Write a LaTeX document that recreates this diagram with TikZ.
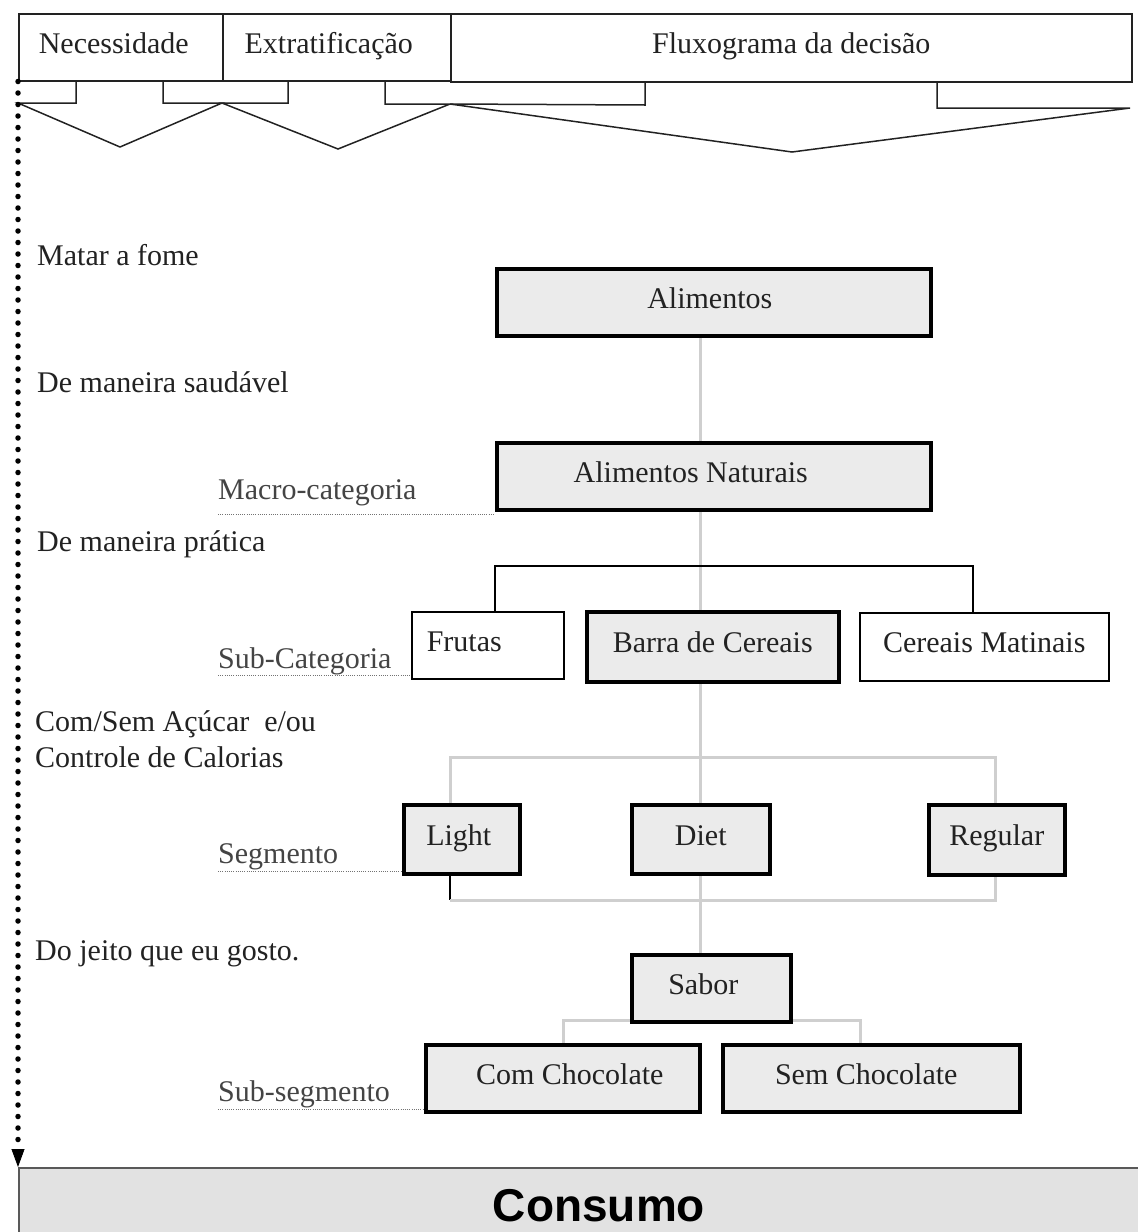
\documentclass[tikz,border=0pt]{standalone}
\usepackage{fontspec}
\setmainfont{Liberation Serif}
\newfontfamily\consfont{Liberation Sans}
\usetikzlibrary{arrows.meta,backgrounds}
\definecolor{boxgray}{HTML}{EBEBEB}
\definecolor{consgray}{HTML}{E2E2E2}
\definecolor{linkgray}{HTML}{CFCFCF}
\definecolor{ink}{HTML}{222222}
\definecolor{labink}{HTML}{444444}
\begin{document}
\begin{tikzpicture}[x=1pt,y=-1pt,
  font=\fontsize{30}{36}\selectfont,
  every node/.style={text=ink},
  hdrbox/.style={draw=ink, line width=1.5pt, anchor=north west, inner sep=0pt, text height=21pt, text depth=9pt},
  hdrline/.style={draw=ink, line width=1.5pt, line join=miter},
  gbox/.style={draw=black, line width=3.5pt, fill=boxgray, anchor=north west, inner sep=0pt, text height=21pt, text depth=9pt},
  wbox/.style={draw=black, line width=1.5pt, fill=white, anchor=north west, inner sep=0pt, text height=21pt, text depth=9pt},
  glink/.style={draw=linkgray, line width=3pt},
  blink/.style={draw=black, line width=1.5pt},
  uline/.style={draw=black!55, line width=1pt, dash pattern=on 1pt off 1.2pt},
  lbl/.style={anchor=base west, inner sep=0pt},
  catlbl/.style={anchor=base west, inner sep=0pt, text=labink},
  dotline/.style={draw=black, line width=5.5pt, line cap=round, dash pattern=on 0pt off 11.5pt}
]
\useasboundingbox (0,0) rectangle (1138,1232);
\clip (0,0) rectangle (1138,1232);

% header
\node[hdrbox, minimum width=204pt, minimum height=67pt] (nec) at (18,13) {Necessidade\hspace*{14pt}};
\node[hdrbox, minimum width=228pt, minimum height=67pt] (ext) at (222,13) {Extratificação\hspace*{16pt}};
\node[hdrbox, minimum width=681pt, minimum height=68pt] (flux) at (450,13) {Fluxograma da decisão};

\draw[hdrline] (76,80) -- (76,103) -- (18,103) -- (120,147) -- (222,103) -- (163,103) -- (163,80);
\draw[hdrline] (288,80) -- (288,103) -- (222,103) -- (338,149) -- (450,104) -- (385,104) -- (385,80);
\draw[hdrline] (645,81) -- (645,105) -- (450,104) -- (792,152) -- (1130,108) -- (937,108) -- (937,81);

% boxes
\node[gbox, minimum width=434pt, minimum height=67pt] (alim) at (495,267) {Alimentos\hspace*{8pt}};
\node[gbox, minimum width=434pt, minimum height=67pt] (natur) at (495,441) {Alimentos Naturais\hspace*{46pt}};
\node[wbox, minimum height=67pt, text width=122pt, inner xsep=15pt, align=left] (frutas) at (411,611) {Frutas};
\node[gbox, minimum width=252pt, minimum height=70pt] (barra) at (585,610) {Barra de Cereais};
\node[wbox, minimum width=249pt, minimum height=68pt] (cereais) at (859,612) {Cereais Matinais};
\node[gbox, minimum width=116pt, minimum height=69pt] (light) at (402,803) {Light\hspace*{6pt}};
\node[gbox, minimum width=138pt, minimum height=69pt] (diet) at (630,803) {Diet};
\node[gbox, minimum width=136pt, minimum height=70pt] (regular) at (927,803) {Regular};
\node[gbox, minimum width=159pt, minimum height=67pt] (sabor) at (630,953) {Sabor\hspace*{16pt}};
\node[gbox, minimum width=274pt, minimum height=67pt] (comch) at (424,1043) {\hspace*{14pt}Com Chocolate};
\node[gbox, minimum width=297pt, minimum height=67pt] (semch) at (721,1043) {Sem Chocolate\hspace*{10pt}};
\node[draw=black!65, line width=2pt, fill=consgray, anchor=north west, minimum width=1160pt, minimum height=76pt, inner sep=0pt,
      font=\consfont\bfseries\fontsize{46}{50}\selectfont, text=black] (cons) at (18,1167) {Consumo};

% left texts
\node[lbl] (t1) at (37,265) {Matar a fome};
\node[lbl] (t2) at (37,392) {De maneira saudável};
\node[lbl] (t3) at (37,551) {De maneira prática};
\node[lbl] (t4) at (35,731) {Com/Sem Açúcar~~e/ou};
\node[lbl] (t5) at (35,767) {Controle de Calorias};
\node[lbl] (t6) at (35,960) {Do jeito que eu gosto.};

\node[catlbl] (macro) at (218,499) {Macro-categoria};
\node[catlbl] (subcat) at (218,668) {Sub-Categoria};
\node[catlbl] (seg) at (218,863) {Segmento};
\node[catlbl] (subseg) at (218,1101) {Sub-segmento};

\draw[uline] ([yshift=-15pt]macro.base west) -- ([yshift=-15pt]macro.base west -| natur.west);
\draw[uline] ([yshift=-7pt]subcat.base west) -- ([yshift=-7pt]subcat.base west -| frutas.west);
\draw[uline] ([yshift=-8pt]seg.base west) -- ([yshift=-8pt]seg.base west -| light.west);
\draw[uline] ([yshift=-8pt]subseg.base west) -- ([yshift=-8pt]subseg.base west -| comch.west);

% dotted flow line
\coordinate (arrstart) at (18,1149);
\draw[dotline] (nec.south west) -- (arrstart);
\draw[line width=0.8pt, -{Triangle[width=13pt,length=18pt]}] (arrstart) -- (cons.north west);

% connectors
\coordinate (spine) at (700,0);
\coordinate (b1) at (495,566);
\coordinate (b2) at (973,566);
\coordinate (g1) at (450,757);
\coordinate (g2) at (995,757);
\coordinate (g3) at (450,900);
\coordinate (g4) at (995,900);
\coordinate (s1) at (563,1020);
\coordinate (s2) at (860,1020);
\begin{scope}[on background layer]
\draw[glink] (alim.south -| spine) -- (natur.north -| spine);
\draw[glink] (natur.south -| spine) -- (barra.north -| spine);
\draw[blink] (frutas.north -| b1) -- (b1) -- (b2) -- (cereais.north -| b2);
\draw[glink] (barra.south -| spine) -- (diet.north -| spine);
\draw[glink] (light.north -| g1) -- (g1) -- (g2) -- (regular.north -| g2);
\draw[blink] (light.south -| g3) -- (g3);
\draw[glink] (g3) -- (g4) -- (regular.south -| g4);
\draw[glink] (diet.south -| spine) -- (sabor.north -| spine);
\draw[glink] (comch.north -| s1) -- (s1) -- (s2) -- (semch.north -| s2);
\end{scope}
\end{tikzpicture}
\end{document}
